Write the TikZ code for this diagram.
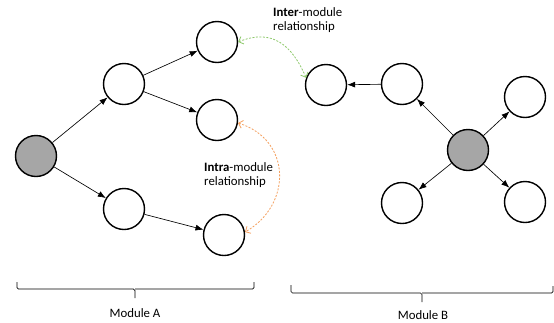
\documentclass[tikz,border=0pt]{standalone}
\usepackage{fontspec}
\setmainfont{Carlito}
\usetikzlibrary{arrows.meta}
\definecolor{nodegray}{RGB}{166,166,166}
\definecolor{intergreen}{RGB}{140,200,105}
\definecolor{intraorange}{RGB}{245,160,95}
\tikzset{
  mnode/.style={circle,draw=black,line width=1.4pt,minimum size=41pt,inner sep=0pt,fill=white},
  rootnode/.style={mnode,fill=nodegray},
  flow/.style={line width=0.65pt,-{Latex[length=8pt,width=6pt]}},
  rel/.style={line width=0.8pt,dash pattern=on 2pt off 1.5pt,{Straight Barb[length=4pt,width=8pt]}-{Straight Barb[length=4pt,width=8pt]}},
  brace/.style={line width=0.7pt,rounded corners=1.5pt},
  lbl/.style={font=\fontsize{12.8pt}{14.5pt}\selectfont,inner sep=0pt,align=left}
}
\begin{document}
\begin{tikzpicture}[x=1pt,y=-1pt]
\useasboundingbox[fill=white] (0,0) rectangle (554,322);
% Module A
\node[rootnode] (a0) at (36,156) {};
\node[mnode] (a1) at (124,84) {};
\node[mnode] (a2) at (217,42) {};
\node[mnode] (a3) at (217,120) {};
\node[mnode] (a4) at (124,209) {};
\node[mnode] (a5) at (224,235) {};
\draw[flow] (a0) -- (a1);
\draw[flow] (a0) -- (a4);
\draw[flow] (a1) -- (a2);
\draw[flow] (a1) -- (a3);
\draw[flow] (a4) -- (a5);
% Module B
\node[mnode] (b1) at (326,85) {};
\node[mnode] (b2) at (402,84) {};
\node[rootnode] (b0) at (468,150) {};
\node[mnode] (b3) at (525,97) {};
\node[mnode] (b4) at (402,203) {};
\node[mnode] (b5) at (525,202) {};
\draw[flow] (b2) -- (b1);
\draw[flow] (b0) -- (b2);
\draw[flow] (b0) -- (b3);
\draw[flow] (b0) -- (b4);
\draw[flow] (b0) -- (b5);
% relationships
\draw[rel,draw=intergreen] (a2.east) .. controls (272,28) and (292,45) .. (b1.160);
\draw[rel,draw=intraorange] (a3.-8) .. controls (292,140) and (292,205) .. (a5.8);
\node[lbl,anchor=north west] (tinter) at (273,7) {\textbf{Inter}-module\\relationship};
\node[lbl,anchor=north west] (tintra) at (204,162) {\textbf{Intra}-module\\relationship};
% braces
\coordinate (ba) at (135,289);
\draw[brace] (17,282) |- (ba) -- (135,298);
\draw[brace] (ba) -| (254,282);
\coordinate (bb) at (422,293);
\draw[brace] (291,285) |- (bb) -- (422,302);
\draw[brace] (bb) -| (553,286);
\node[lbl] (ma) at (135,313) {Module A};
\node[lbl] (mb) at (423,315) {Module B};
\end{tikzpicture}
\end{document}
